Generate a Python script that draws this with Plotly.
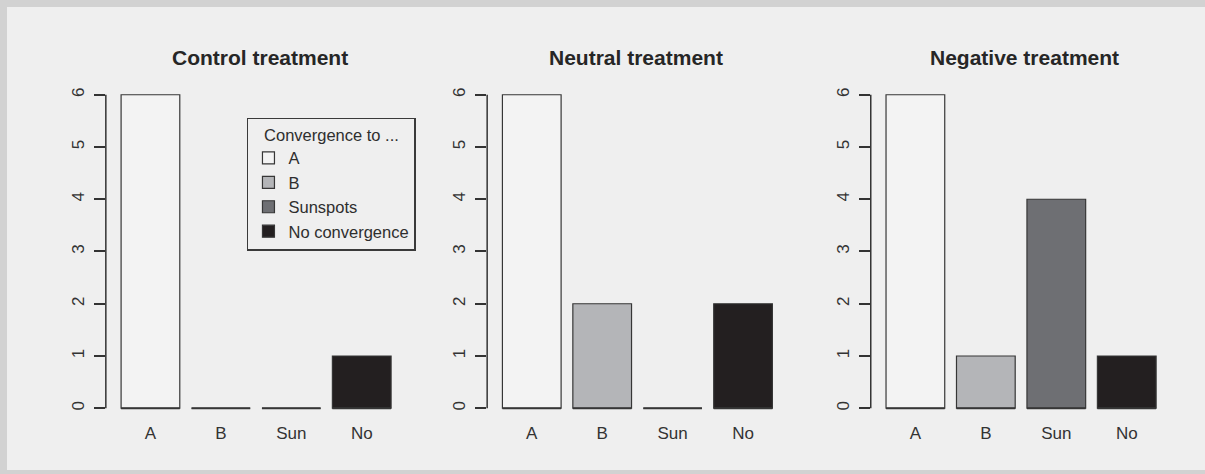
import plotly.graph_objects as go

# ---- data ----
categories = ["A", "B", "Sun", "No"]
legend_names = ["A", "B", "Sunspots", "No convergence"]
panel_titles = ["Control treatment", "Neutral treatment", "Negative treatment"]
control = [6, 0, 0, 1]
neutral = [6, 2, 0, 2]
negative = [6, 1, 4, 1]
y_ticks = [0, 1, 2, 3, 4, 5, 6]

# ---- style ----
bar_colors = ["#f3f3f3", "#b4b5b8", "#6e6f73", "#231f20"]
edge = "#363636"
bg = "#efefef"
frame = "#d2d2d2"
font_family = "Liberation Sans, Arial, sans-serif"

W, H = 1205, 474
ML, MR, MT, MB = 7, 0, 7, 4
PW, PH = W - ML - MR, H - MT - MB

# R barplot convention: width 1, space 0.2
bar_w, space = 1.0, 0.2
pos = [space + bar_w / 2 + i * (bar_w + space) for i in range(len(categories))]

x_domains = [[0.0825, 0.3304], [0.4008, 0.6487], [0.7210, 0.9690]]
y_domain = [0.1063, 0.8376]
title_x = [0.2108, 0.5250, 0.8495]

fig = go.Figure()
series = [control, neutral, negative]
for p, vals in enumerate(series):
    xa = "x" if p == 0 else f"x{p+1}"
    ya = "y" if p == 0 else f"y{p+1}"
    for j, cat in enumerate(categories):
        fig.add_trace(go.Bar(
            x=[pos[j]], y=[vals[j]], width=bar_w,
            marker=dict(color=bar_colors[j], line=dict(color=edge, width=1.2)),
            name=legend_names[j],
            showlegend=(p == 0), xaxis=xa, yaxis=ya, hoverinfo="skip"))
    # bar bottom edges (R draws zero-height bars as a line)
    bx, by = [], []
    for j in range(len(categories)):
        bx += [pos[j] - bar_w / 2, pos[j] + bar_w / 2, None]
        by += [0, 0, None]
    fig.add_trace(go.Scatter(x=bx, y=by, mode="lines",
                             line=dict(color=edge, width=2),
                             showlegend=False, hoverinfo="skip",
                             xaxis=xa, yaxis=ya))

# grey frame around the figure (top, left, bottom bands)
lx, rx = -ML / PW, 1 + 20 / PW
by0, ty1 = -MB / PH, 1 + MT / PH
frame_shapes = [
    dict(type="rect", xref="paper", yref="paper", x0=lx, x1=rx, y0=1, y1=ty1),
    dict(type="rect", xref="paper", yref="paper", x0=lx, x1=0, y0=by0, y1=ty1),
    dict(type="rect", xref="paper", yref="paper", x0=lx, x1=rx, y0=by0, y1=0),
]
for s in frame_shapes:
    s.update(fillcolor=frame, line=dict(width=0), layer="below")

layout = dict(
    width=W, height=H,
    margin=dict(l=ML, r=MR, t=MT, b=MB),
    paper_bgcolor=bg, plot_bgcolor="rgba(0,0,0,0)",
    barmode="overlay",
    font=dict(family=font_family, color="#333333"),
    legend=dict(
        x=0.2003, y=0.761, xanchor="left", yanchor="top",
        bgcolor=bg, bordercolor="#3a3a3a", borderwidth=1.5,
        font=dict(size=16.5, color="#2e2e2e"),
        title=dict(text="Convergence to ...", side="top center",
                   font=dict(size=16.5, color="#2e2e2e")),
        traceorder="normal", tracegroupgap=0,
    ),
    shapes=frame_shapes,
    annotations=[],
)

for p in range(3):
    sx = "" if p == 0 else str(p + 1)
    layout[f"xaxis{sx}"] = dict(
        domain=x_domains[p], range=[-0.06, 5.0], anchor=f"y{sx}",
        tickvals=pos, ticktext=categories, ticks="",
        showgrid=False, zeroline=False, showline=False,
        tickfont=dict(size=17, color="#333333"), fixedrange=True)
    layout[f"yaxis{sx}"] = dict(
        domain=y_domain, range=[-0.24, 6.24], anchor=f"x{sx}",
        tickvals=y_ticks, tickangle=-90, ticks="outside", ticklen=11,
        tickwidth=1.5, tickcolor="#333333", ticklabelstandoff=3,
        showgrid=False, zeroline=False, showline=False,
        tickfont=dict(size=17, color="#333333"), fixedrange=True)
    layout["shapes"].append(dict(
        type="line", xref=f"x{sx} domain", yref=f"y{sx}",
        x0=0, x1=0, y0=min(y_ticks), y1=max(y_ticks),
        line=dict(color="#333333", width=1.5)))
    layout["annotations"].append(dict(
        text=f"<b>{panel_titles[p]}</b>", xref="paper", yref="paper",
        x=title_x[p], y=0.891, xanchor="center", yanchor="middle",
        showarrow=False, font=dict(size=21, color="#262626")))

fig.update_layout(**layout)
fig.write_html(
    "out.html", config={"displayModeBar": False},
    post_script=("document.body.style.margin='0';"
                 "document.body.style.overflow='hidden';"
                 "document.documentElement.style.overflow='hidden';"))
